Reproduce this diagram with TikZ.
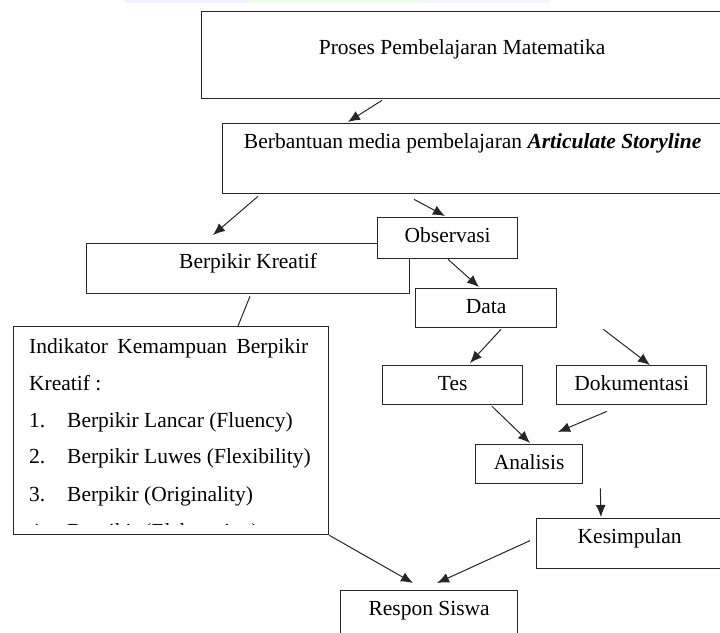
\documentclass[tikz,border=0pt]{standalone}
\usepackage{fontspec}
\setmainfont{Liberation Serif}
\usetikzlibrary{arrows.meta,calc}

\begin{document}
\begin{tikzpicture}[x=1pt,y=-1pt,
        every node/.style={font=\fontsize{21.5}{37}\selectfont},
        box/.style={draw=black!85,line width=1.3pt,fill=white,inner sep=0pt,anchor=north west,text height=25pt},
        indtext/.style={anchor=base west,inner sep=0pt},
        arr/.style={-{Latex[length=12pt,width=10pt]},line width=1pt,draw=black!85}]
            \useasboundingbox (0,0) rectangle (720,632);

            % Faint band at the top edge
            \fill[blue!5] (125,0) rectangle (250,3);
            \fill[green!7] (250,0) rectangle (420,3);
            \fill[blue!4] (420,0) rectangle (550,3);

            % Define the boxes
            \node[box,minimum width=521pt,text height=43pt,text depth=44pt] (proses) at (201,11) {Proses Pembelajaran Matematika};
            \node[box,minimum width=500pt,text depth=45pt] (berbantuan) at (222,123) {Berbantuan media pembelajaran \textbf{\textit{Articulate Storyline}}};
            \node[box,minimum width=323pt,text depth=25pt] (berpikir) at (86,243) {Berpikir Kreatif};
            \node[box,minimum width=140pt,text depth=16pt] (observasi) at (377,217) {Observasi};
            \node[box,minimum width=141pt,text depth=14pt] (data) at (415,288) {Data};
            \node[box,minimum width=140pt,text depth=14pt] (tes) at (382,365) {Tes};
            \node[box,minimum width=150pt,text depth=14pt] (dokumentasi) at (556,365) {Dokumentasi};
            \node[box,minimum width=107pt,text depth=14pt] (analisis) at (475,444) {Analisis};
            \node[box,minimum width=186pt,text depth=25pt] (kesimpulan) at (536,518) {Kesimpulan};
            \node[box,minimum width=177pt,text depth=25pt] (respon) at (340,590) {Respon Siswa};
            \node[box,minimum width=315pt,minimum height=208pt] (indikator) at (13,326) {};

            % Indicator list
            \node[indtext] (indhead) at (29,353) {\makebox[279pt][s]{Indikator Kemampuan Berpikir}};
            \node[indtext] (indhead2) at (29,390) {Kreatif :};
            \foreach \n/\y/\txt in {1/427/Berpikir Lancar (Fluency),
                                    2/463.5/Berpikir Luwes (Flexibility),
                                    3/501.5/Berpikir (Originality)} {
                \node[indtext] (num\n) at (29,\y) {\n.};
                \node[indtext] (item\n) at (67,\y) {\txt};
            }
            \begin{scope}
                \clip (15,328) rectangle (326,524);
                \node[indtext] (num4) at (29,538.5) {4.};
                \node[indtext] (item4) at (67,538.5) {Berpikir (Elaboration)};
            \end{scope}

            % Draw arrows
            \draw[arr] ($(proses.south west)+(181,1)$) -- ($(berbantuan.north west)+(126,-1)$);
            \draw[arr] ($(berbantuan.south west)+(36,2)$) -- ($(berpikir.north west)+(127,-8)$);
            \draw[arr] ($(berbantuan.south west)+(192,5)$) -- ($(observasi.north west)+(68,-1)$);
            \draw[arr] ($(observasi.south west)+(71,0)$) -- ($(data.north west)+(64,-1)$);
            \draw[line width=1pt,draw=black!85] ($(berpikir.south west)+(164,2)$) -- ($(indikator.north west)+(225,0)$);
            \draw[arr] ($(data.south west)+(86,1)$) -- ($(tes.north west)+(88,-2)$);
            \coordinate (dokstart) at ($(data.south east)+(46,1)$);
            \draw[arr] (dokstart) -- ($(dokumentasi.north west)+(94,0)$);
            \draw[arr] ($(tes.south west)+(110,1)$) -- ($(analisis.north west)+(55,-1)$);
            \draw[arr] ($(dokumentasi.south west)+(51,6)$) -- ($(analisis.north west)+(83,-12)$);
            \draw[arr] ($(analisis.south east)+(17,4)$) -- ($(kesimpulan.north west)+(65,-1)$);
            \draw[arr] (indikator.south east) -- ($(respon.north west)+(73,-7)$);
            \draw[arr] ($(kesimpulan.west)+(-6,-3)$) -- ($(respon.north west)+(97,-7)$);
        \end{tikzpicture}
\end{document}
